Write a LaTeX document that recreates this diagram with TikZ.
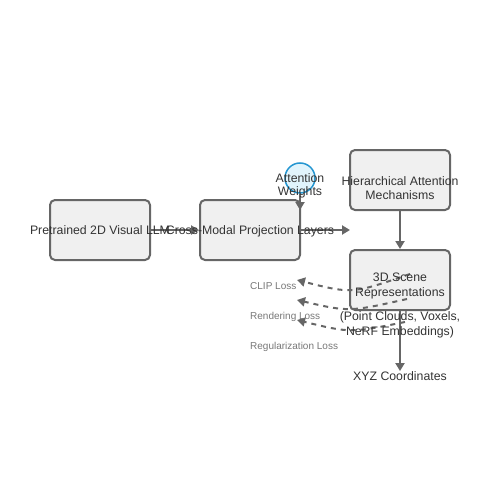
\documentclass[tikz,border=0pt]{standalone}
\usepackage{fontspec}
\setmainfont{Liberation Sans}
\usetikzlibrary{arrows.meta}
\definecolor{boxfill}{HTML}{F0F0F0}
\definecolor{edgegray}{HTML}{666666}
\definecolor{txtgray}{HTML}{333333}
\definecolor{lossgray}{HTML}{777777}
\definecolor{attnblue}{HTML}{2596D1}
\definecolor{attnfill}{HTML}{E1F4FC}
\begin{document}
\begin{tikzpicture}[x=1pt, y=-1pt,
  box/.style={rectangle, rounded corners=5pt, draw=edgegray, fill=boxfill, line width=2pt, minimum width=100pt, minimum height=60pt},
  lbl/.style={text=txtgray, font=\fontsize{12.3}{14.5}\selectfont, align=center, inner sep=0pt},
  one/.style={lbl, text height=9pt, text depth=2.5pt},
  loss/.style={text=lossgray, font=\fontsize{10}{12}\selectfont, anchor=west, inner sep=0pt, text height=7.5pt, text depth=2pt},
  e/.style={draw=edgegray, line width=2pt, -{Triangle[length=8pt,width=9pt]}},
  d/.style={e, dash pattern=on 5pt off 5pt}
]
\useasboundingbox (0,0) rectangle (500,500);

\node[box] (llm) at (100,230) {};
\node[box] (proj) at (250,230) {};
\node[box] (hier) at (400,180) {};
\node[box] (scene) at (400,280) {};
\node[circle, draw=attnblue, fill=attnfill, line width=1.5pt, minimum size=30pt, inner sep=0pt] (attn) at (300,178) {};

\coordinate (projout) at (350,230);
\coordinate (attnin) at (300,210);
\coordinate (clips) at (410,274);
\coordinate (clipe) at (297,280);
\coordinate (rends) at (407,299);
\coordinate (rende) at (297,300);
\coordinate (regs) at (405,322);
\coordinate (rege) at (297,320);

\node[one] (xyz) at (400,377) {XYZ Coordinates};

\draw[e] (llm) -- (proj);
\draw[e] (proj) -- (projout);
\draw[e] (attn) -- (attnin);
\draw[e] (hier) -- (scene);
\draw[e] (scene) -- (xyz);
\draw[d] (clips) .. controls (352,294) .. (clipe);
\draw[d] (rends) .. controls (349,312) .. (rende);
\draw[d] (regs) .. controls (350,333) .. (rege);

\node[one] (llmtxt) at (100,231.5) {Pretrained 2D Visual LLM};
\node[one] (projtxt) at (250,231.5) {Cross-Modal Projection Layers};
\node[lbl] (hiertxt) at (400,188) {Hierarchical Attention\\Mechanisms};
\node[lbl] (scenetxt) at (400,286) {3D Scene\\Representations};
\node[lbl] (scenesub) at (400,325) {(Point Clouds, Voxels,\\NeRF Embeddings)};
\node[lbl, font=\fontsize{12.3}{13}\selectfont] (attntxt) at (300,186) {Attention\\Weights};

\node[loss] (clip) at (250,287) {CLIP Loss};
\node[loss] (rend) at (250,317) {Rendering Loss};
\node[loss] (reg) at (250,347) {Regularization Loss};
\end{tikzpicture}
\end{document}
